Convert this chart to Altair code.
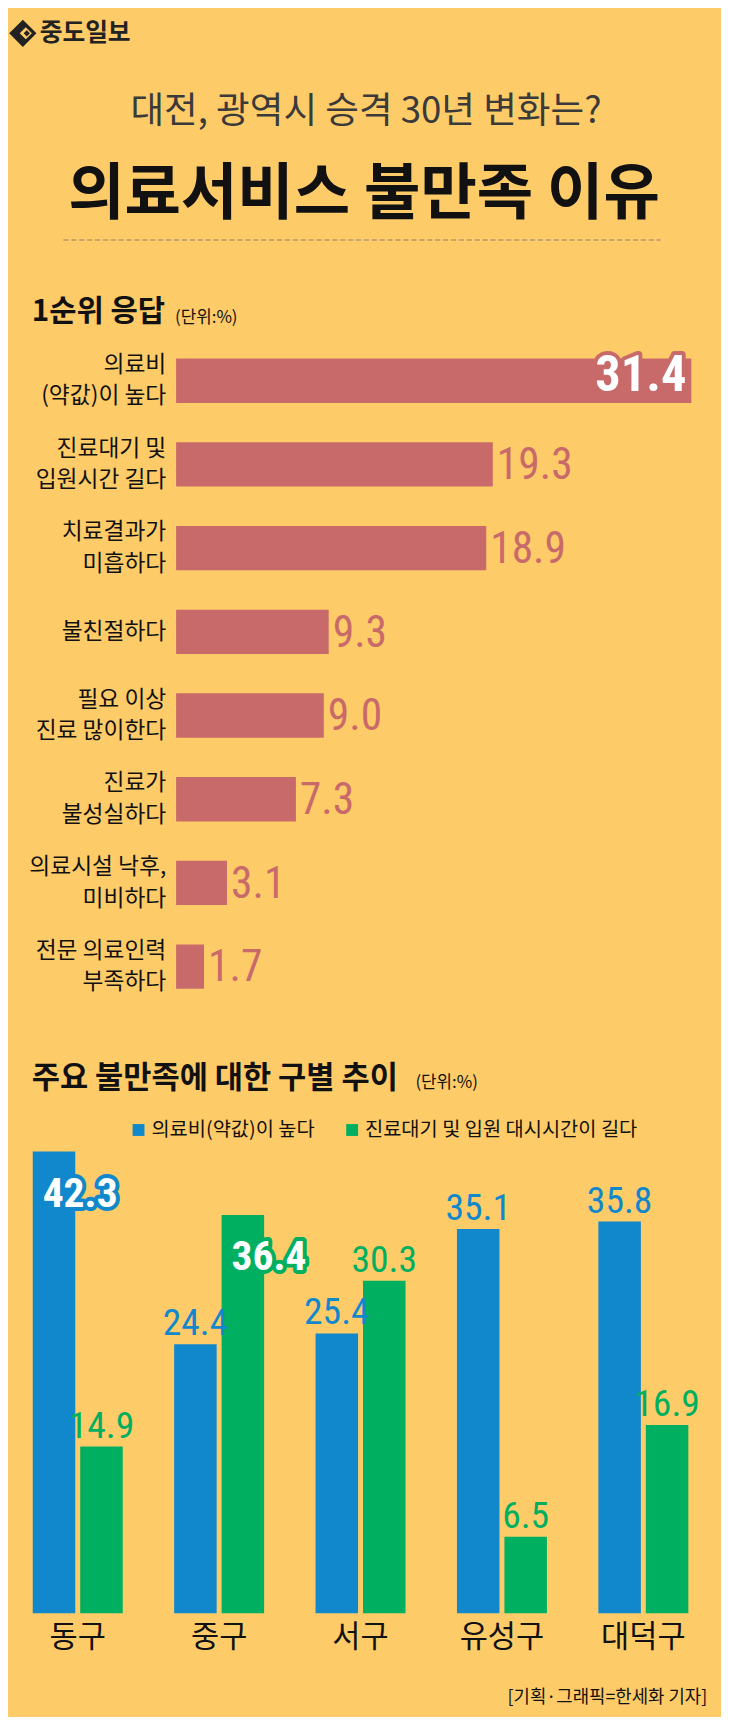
import altair as alt
import pandas as pd

BG = "#FECB69"
RED = "#C96A6A"
BLUE = "#1188CC"
GREEN = "#00B060"
INK = "#111111"
KR = "Noto Sans CJK KR"
NUM = "Liberation Sans Narrow, Roboto Condensed, Roboto, sans-serif"

# ---------------- data ----------------
logo_text = "중도일보"
subtitle = "대전, 광역시 승격 30년 변화는?"
main_title = "의료서비스 불만족 이유"
sec1_title = "1순위 응답"
sec2_title = "주요 불만족에 대한 구별 추이"
unit_text = "(단위:%)"
credit = "[기획·그래픽=한세화 기자]"

reasons = [
    "의료비\n(약값)이 높다",
    "진료대기 및\n입원시간 길다",
    "치료결과가\n미흡하다",
    "불친절하다",
    "필요 이상\n진료 많이한다",
    "진료가\n불성실하다",
    "의료시설 낙후,\n미비하다",
    "전문 의료인력\n부족하다",
]
reason_vals = [31.4, 19.3, 18.9, 9.3, 9.0, 7.3, 3.1, 1.7]

districts = ["동구", "중구", "서구", "유성구", "대덕구"]
series_names = ["의료비(약값)이 높다", "진료대기 및 입원 대시시간이 길다"]
cost_vals = [42.3, 24.4, 25.4, 35.1, 35.8]
wait_vals = [14.9, 36.4, 30.3, 6.5, 16.9]

W = 721
H1 = 324.2
H2 = 677.1
H3 = 610.7
Y_MIN = -0.6
Y_MAX = 55.5

# ---------------- header ----------------
hdr = pd.DataFrame({"k": [0]})
hbase = alt.Chart(hdr)
header = alt.layer(
    hbase.mark_point(shape="diamond", filled=True, color="#222222", size=760, opacity=1).encode(
        x=alt.value(15), y=alt.value(16)),
    hbase.mark_point(shape="diamond", filled=True, color=BG, size=150, opacity=1).encode(
        x=alt.value(18), y=alt.value(16)),
    hbase.mark_point(shape="diamond", filled=True, color="#222222", size=40, opacity=1).encode(
        x=alt.value(19), y=alt.value(16)),
    hbase.mark_text(text=logo_text, font=KR, fontWeight="bold", fontSize=25, align="left",
                    baseline="middle", color="#222222").encode(x=alt.value(32), y=alt.value(16)),
    hbase.mark_text(text=subtitle, font=KR, fontSize=37, align="center", baseline="middle",
                    color="#3a3a3a").encode(x=alt.value(362), y=alt.value(96)),
    hbase.mark_text(text=main_title, font=KR, fontWeight="bold", fontSize=62, align="center",
                    baseline="middle", color=INK).encode(x=alt.value(360), y=alt.value(180)),
    hbase.mark_rule(color="#8c8470", strokeDash=[5, 3], strokeWidth=1.2).encode(
        x=alt.value(56), x2=alt.value(660), y=alt.value(225)),
    hbase.mark_text(text=sec1_title, font=KR, fontWeight="bold", fontSize=30, align="left",
                    baseline="middle", color=INK).encode(x=alt.value(24), y=alt.value(298)),
    hbase.mark_text(text=unit_text, font=KR, fontSize=17, align="left",
                    baseline="middle", color=INK).encode(x=alt.value(169), y=alt.value(304)),
).properties(width=W, height=H1)

# ---------------- chart 1: horizontal bars ----------------
parts = [r.split("\n") for r in reasons]
df1 = pd.DataFrame({
    "reason": reasons,
    "l1": [p[0] for p in parts],
    "l2": [p[1] if len(p) > 1 else "" for p in parts],
    "n": [len(p) for p in parts],
    "value": reason_vals,
    "hl": [v == max(reason_vals) for v in reason_vals],
})
xs1 = alt.Scale(domain=[-10.246, 33.209], nice=False, zero=False)
b1 = alt.Chart(df1).encode(
    y=alt.Y("reason:N", sort=reasons, axis=None,
            scale=alt.Scale(paddingInner=0.47, paddingOuter=0.235)))
lab = dict(align="right", baseline="middle", font=KR, fontSize=23, color=INK)
chart1 = alt.layer(
    b1.mark_bar(color=RED).encode(x=alt.X("value:Q", scale=xs1, axis=None), x2=alt.datum(0)),
    b1.transform_filter("datum.n == 1").mark_text(**lab).encode(
        x=alt.value(160), text="l1:N"),
    b1.transform_filter("datum.n == 2").mark_text(dy=-16, **lab).encode(
        x=alt.value(160), text="l1:N"),
    b1.transform_filter("datum.n == 2").mark_text(dy=16, **lab).encode(
        x=alt.value(160), text="l2:N"),
    b1.transform_filter("!datum.hl").mark_text(
        align="left", baseline="middle", dx=4, dy=2, font=NUM, fontSize=44, color=RED).encode(
        x=alt.X("value:Q", scale=xs1), text=alt.Text("value:Q", format=".1f")),
    b1.transform_filter("datum.hl").mark_text(
        align="right", baseline="alphabetic", dx=-5, dy=10, font=NUM, fontWeight="bold",
        fontSize=51, color=RED, stroke=RED, strokeWidth=8, strokeJoin="round").encode(
        x=alt.X("value:Q", scale=xs1), text=alt.Text("value:Q", format=".1f")),
    b1.transform_filter("datum.hl").mark_text(
        align="right", baseline="alphabetic", dx=-5, dy=10, font=NUM, fontWeight="bold",
        fontSize=51, color="white").encode(
        x=alt.X("value:Q", scale=xs1), text=alt.Text("value:Q", format=".1f")),
).properties(width=W, height=H2)

# ---------------- chart 2: grouped vertical bars ----------------
rows = []
for i, d in enumerate(districts):
    rows.append({"district": d, "series": series_names[0], "value": cost_vals[i]})
    rows.append({"district": d, "series": series_names[1], "value": wait_vals[i]})
df2 = pd.DataFrame(rows)
df2["hl"] = [
    (r["series"] == series_names[0] and r["value"] == max(cost_vals)) or
    (r["series"] == series_names[1] and r["value"] == max(wait_vals))
    for _, r in df2.iterrows()
]

color_scale = alt.Scale(domain=series_names, range=[BLUE, GREEN])
legend = alt.Legend(orient="none", legendX=122, legendY=1115, direction="horizontal",
                    title=None, symbolType="square", symbolSize=144, symbolStrokeWidth=0,
                    symbolOpacity=1, labelFont=KR, labelFontSize=20, labelColor=INK,
                    columnPadding=27, labelOffset=3, padding=0, labelLimit=500)
color_enc = alt.Color("series:N", scale=color_scale, legend=legend)
ys2 = alt.Scale(domain=[Y_MIN, Y_MAX], nice=False, zero=False)
b2 = alt.Chart(df2).encode(
    x=alt.X("district:N", sort=districts, title=None,
            scale=alt.Scale(paddingInner=0.3636, paddingOuter=0.203, align=0.431),
            axis=alt.Axis(labelFont=KR, labelFontSize=31, labelColor=INK, labelPadding=10,
                          ticks=False, domain=False, labelAngle=0, grid=False)),
    xOffset=alt.XOffset("series:N", sort=series_names,
                        scale=alt.Scale(paddingInner=0.104, paddingOuter=0)),
)
tb = alt.Chart(pd.DataFrame({"k": [0]}))
chart2 = alt.layer(
    b2.mark_bar().encode(y=alt.Y("value:Q", scale=ys2, axis=None), y2=alt.datum(Y_MIN),
                         color=color_enc),
    b2.transform_filter("!datum.hl").mark_text(
        align="center", baseline="alphabetic", dy=-9, font=NUM, fontSize=38).encode(
        y=alt.Y("value:Q", scale=ys2), text=alt.Text("value:Q", format=".1f"), color=color_enc),
    b2.transform_filter("datum.hl").mark_text(
        align="left", baseline="alphabetic", dx=-11.5, dy=56, font=NUM, fontWeight="bold",
        fontSize=42, strokeWidth=8, strokeJoin="round").encode(
        y=alt.Y("value:Q", scale=ys2), text=alt.Text("value:Q", format=".1f"), color=color_enc,
        stroke=alt.Stroke("series:N", scale=color_scale, legend=None)),
    b2.transform_filter("datum.hl").mark_text(
        align="left", baseline="alphabetic", dx=-11.5, dy=56, font=NUM, fontWeight="bold",
        fontSize=42, fill="white").encode(
        y=alt.Y("value:Q", scale=ys2), text=alt.Text("value:Q", format=".1f")),
    tb.mark_text(text=sec2_title, font=KR, fontWeight="bold", fontSize=31, align="left",
                 baseline="middle", color=INK).encode(x=alt.value(24), y=alt.value(70.7)),
    tb.mark_text(text=unit_text, font=KR, fontSize=17, align="left",
                 baseline="middle", color=INK).encode(x=alt.value(412), y=alt.value(75)),
    tb.mark_text(text=credit, font=KR, fontSize=18, align="right",
                 baseline="middle", color=INK).encode(x=alt.value(707), y=alt.value(696.7)),
).properties(width=W, height=H3)

chart = alt.vconcat(header, chart1, chart2, spacing=0).configure(
    background=BG, padding=0
).configure_view(stroke=None).configure_concat(spacing=0)

chart.save("out.html", embed_options={"renderer": "svg", "actions": False})
